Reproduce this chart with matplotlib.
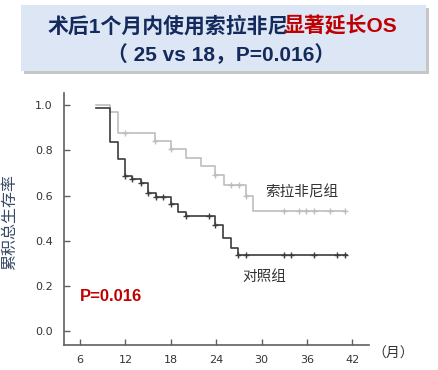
import matplotlib
matplotlib.use("Agg")
import matplotlib.pyplot as plt
from matplotlib.patches import Rectangle

# Kaplan-Meier curves (month, survival)
sora_t = [8.1, 10.0, 11.0, 15.9, 18.0, 20.0, 22.0, 23.9, 25.0, 27.9, 28.9, 41.0]
sora_s = [1.0, 0.968, 0.878, 0.842, 0.807, 0.767, 0.729, 0.692, 0.648, 0.597, 0.532, 0.532]
sora_cens_t = [12.0, 15.9, 18.0, 23.9, 25.9, 27.0, 27.9, 33.0, 34.9, 35.9, 36.9, 39.0, 41.0]
sora_cens_s = [0.878, 0.842, 0.807, 0.692, 0.648, 0.648, 0.597, 0.532, 0.532, 0.532, 0.532, 0.532, 0.532]

ctrl_t = [8.1, 10.0, 11.0, 11.9, 12.9, 14.0, 15.0, 16.0, 18.0, 19.0, 20.0, 23.9, 24.9, 25.9, 26.9, 41.3]
ctrl_s = [0.985, 0.838, 0.763, 0.688, 0.673, 0.657, 0.611, 0.595, 0.561, 0.526, 0.509, 0.469, 0.411, 0.370, 0.339, 0.339]
ctrl_cens_t = [11.9, 12.9, 14.0, 15.0, 16.0, 17.0, 18.0, 20.0, 23.0, 23.9, 26.9, 28.0, 33.0, 33.9, 37.0, 40.0, 41.1]
ctrl_cens_s = [0.688, 0.673, 0.657, 0.611, 0.595, 0.595, 0.561, 0.509, 0.509, 0.469, 0.339, 0.339, 0.339, 0.339, 0.339, 0.339, 0.339]

xticks = [6, 12, 18, 24, 30, 36, 42]
yticks = [0.0, 0.2, 0.4, 0.6, 0.8, 1.0]

cjk = ["Liberation Sans", "Noto Sans CJK SC", "DejaVu Sans"]

fig = plt.figure(figsize=(4.39, 3.70), dpi=100)

# title box with a small shadow
fig.patches.append(Rectangle((0.0478 + 0.007, 0.8081 - 0.009), 0.9226, 0.1784,
                             transform=fig.transFigure, facecolor="#a0a0a0",
                             edgecolor="none", alpha=0.6, zorder=0))
fig.patches.append(Rectangle((0.0478, 0.8081), 0.9226, 0.1784,
                             transform=fig.transFigure, facecolor="#dce6f4",
                             edgecolor="none", zorder=1))

# first title line in two colours: place the red part right after the blue one
t1 = fig.text(48 / 439, 0.9297, "术后1个月内使用索拉非尼", ha="left", va="center",
              fontsize=15, fontweight="bold", color="#142a5c", family=cjk)
r = fig.canvas.get_renderer()
bb = t1.get_window_extent(renderer=r)
fig.text((bb.x1 - 6) / fig.bbox.width, 0.9297, "显著延长OS", ha="left", va="center",
         fontsize=15, fontweight="bold", color="#c00000", family=cjk)
fig.text(0.5046, 0.8514, "（ 25 vs 18，P=0.016）", ha="center", va="center",
         fontsize=15, fontweight="bold", color="#142a5c", family=cjk)

ax = fig.add_axes([0.1451, 0.0676, 0.6961, 0.6802])

ax.step(sora_t, sora_s, where="post", color="#bdbdbd", lw=1.2)
ax.plot(sora_cens_t, sora_cens_s, "+", color="#bdbdbd", ms=5, mew=1)
ax.step(ctrl_t, ctrl_s, where="post", color="#3c3c3c", lw=1.2)
ax.plot(ctrl_cens_t, ctrl_cens_s, "+", color="#3c3c3c", ms=5, mew=1)

ax.set_xlim(3.83, 44.25)
ax.set_ylim(-0.0596, 1.0517)
ax.set_xticks(xticks)
ax.set_yticks(yticks)
ax.set_yticklabels(["%.1f" % v for v in yticks])
ax.tick_params(direction="in", length=4, width=1, color="#606060",
               labelsize=8, labelcolor="#333333")
ax.tick_params(axis="y", pad=8)
ax.tick_params(axis="x", pad=7)
for side in ["top", "right"]:
    ax.spines[side].set_visible(False)
for side in ["left", "bottom"]:
    ax.spines[side].set_color("#606060")
    ax.spines[side].set_linewidth(1.2)

ax.text(35.35, 0.617, "索拉非尼组", ha="center", va="center", fontsize=10.5,
        color="#333333", family=cjk)
ax.text(30.4, 0.242, "对照组", ha="center", va="center", fontsize=10.5,
        color="#333333", family=cjk)
ax.text(6.0, 0.155, "P=0.016", ha="left", va="center", fontsize=12,
        fontweight="bold", color="#c00000", family=cjk)

fig.text(10 / 439, 1 - 222 / 370, "累积总生存率", rotation=90, ha="center",
         va="center", fontsize=11.5, color="#3a4a66", family=cjk)
fig.text(393.5 / 439, 1 - 354 / 370, "（月）", ha="center", va="center",
         fontsize=10, color="#333333", family=cjk)

fig.savefig("out.png", dpi=100)
